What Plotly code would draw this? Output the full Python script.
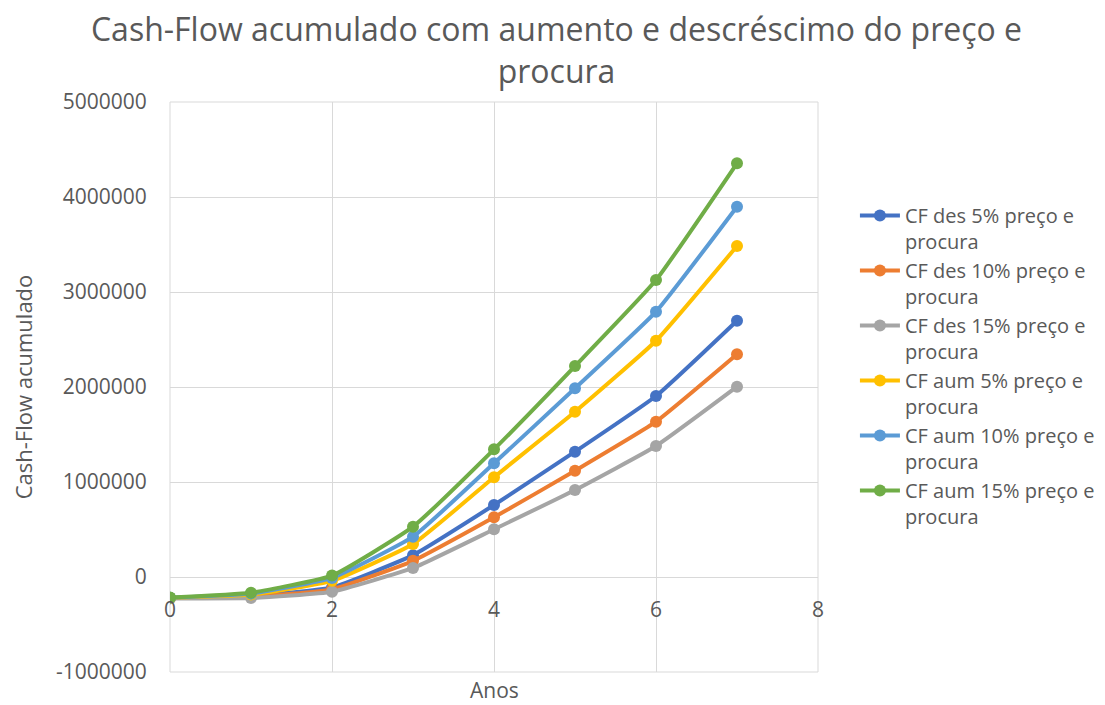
import plotly.graph_objects as go

anos = [0, 1, 2, 3, 4, 5, 6, 7]
series_names = [
    "CF des 5% preço e<br>procura",
    "CF des 10% preço e<br>procura",
    "CF des 15% preço e<br>procura",
    "CF aum 5% preço e<br>procura",
    "CF aum 10% preço e<br>procura",
    "CF aum 15% preço e<br>procura",
]
cf_des_5 = [-220000, -200000, -110000, 230000, 758000, 1319000, 1905000, 2698000]
cf_des_10 = [-222000, -210000, -130000, 170000, 628000, 1119000, 1635000, 2344000]
cf_des_15 = [-225000, -222000, -155000, 95000, 502000, 916000, 1379000, 2003000]
cf_aum_5 = [-220000, -185000, -40000, 347000, 1050000, 1740000, 2487000, 3484000]
cf_aum_10 = [-218000, -175000, -10000, 424000, 1197000, 1986000, 2793000, 3898000]
cf_aum_15 = [-215000, -165000, 15000, 530000, 1344000, 2220000, 3126000, 4355000]
colors = ["#4472C4", "#ED7D31", "#A5A5A5", "#FFC000", "#5B9BD5", "#70AD47"]
x_ticks = [0, 2, 4, 6, 8]
y_ticks = [-1000000, 0, 1000000, 2000000, 3000000, 4000000, 5000000]
y_tick_labels = ["-1000000", "0", "1000000", "2000000", "3000000", "4000000", "5000000"]

FONT = "Open Sans"
TXT = "#595959"
GRID = "#D9D9D9"

fig = go.Figure()
for name, ys, c in zip(series_names,
                       [cf_des_5, cf_des_10, cf_des_15, cf_aum_5, cf_aum_10, cf_aum_15],
                       colors):
    fig.add_trace(go.Scatter(x=anos, y=ys, name=name, mode="lines+markers",
                             line=dict(color=c, width=4, shape="spline", smoothing=0.4),
                             marker=dict(color=c, size=12)))

ymin, ymax = -1000000, 5000000
zero_frac = (0 - ymin) / (ymax - ymin)

fig.update_layout(
    width=1097, height=697,
    paper_bgcolor="white", plot_bgcolor="white",
    margin=dict(l=162, r=287, t=94, b=33, autoexpand=False),
    font=dict(family=FONT, color=TXT, size=21),
    title=dict(text="Cash-Flow acumulado com aumento e descréscimo do preço e<br>procura",
               x=0.5, xanchor="center", xref="container",
               y=0.952, yanchor="top", yref="container",
               font=dict(size=32, color=TXT, family=FONT)),
    xaxis=dict(range=[0, 8], tickvals=x_ticks, showgrid=True, gridcolor=GRID,
               gridwidth=1, zeroline=False, showline=False, anchor="free",
               position=zero_frac, ticks="outside", ticklen=14, automargin=False,
               tickcolor="rgba(0,0,0,0)", tickfont=dict(size=21, color=TXT)),
    yaxis=dict(range=[ymin, ymax], tickvals=y_ticks, ticktext=y_tick_labels,
               showgrid=True, gridcolor=GRID, gridwidth=1,
               zeroline=True, zerolinecolor=GRID, zerolinewidth=1,
               showline=False, ticks="outside", ticklen=18, automargin=False,
               tickcolor="rgba(0,0,0,0)", tickfont=dict(size=21, color=TXT),
               title=dict(text="Cash-Flow acumulado", font=dict(size=22, color=TXT),
                          standoff=20)),
    legend=dict(x=1.057, xanchor="left", y=0.835, yanchor="top", valign="top",
                xref="paper", font=dict(size=20, color=TXT), tracegroupgap=0,
                itemwidth=40),
    showlegend=True,
)
fig.add_shape(type="rect", xref="paper", yref="paper", x0=0, x1=1, y0=0, y1=1,
              line=dict(color=GRID, width=1), layer="below")
fig.add_annotation(text="Anos", xref="paper", yref="paper", x=0.5, y=0,
                   yanchor="middle", yshift=-18, showarrow=False,
                   font=dict(size=21, color=TXT))

fig.write_html("out.html")
